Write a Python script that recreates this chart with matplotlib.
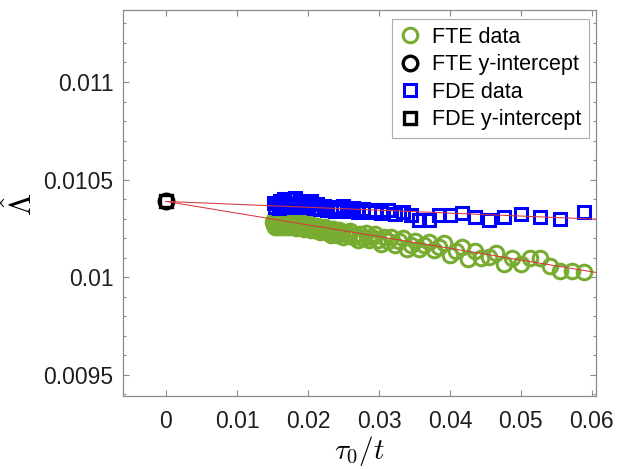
import matplotlib
matplotlib.use("Agg")
import matplotlib.pyplot as plt
from matplotlib.ticker import MultipleLocator

# ---------------- data ----------------
fte_x = [0.01504, 0.01515, 0.01527, 0.01538, 0.01550, 0.01563, 0.01575, 0.01587, 0.01600, 0.01613,
         0.01626, 0.01639, 0.01653, 0.01667, 0.01681, 0.01695, 0.01709, 0.01724, 0.01739, 0.01754,
         0.01770, 0.01786, 0.01802, 0.01818, 0.01835, 0.01852, 0.01869, 0.01887, 0.01905, 0.01923,
         0.01942, 0.01961, 0.01980, 0.02000, 0.02020, 0.02041, 0.02062, 0.02083, 0.02105, 0.02128,
         0.02151, 0.02174, 0.02198, 0.02222, 0.02247, 0.02273, 0.02299, 0.02326, 0.02353, 0.02381,
         0.02410, 0.02439, 0.02469, 0.02500, 0.02532, 0.02564, 0.02597, 0.02632, 0.02667, 0.02703,
         0.02740, 0.02778, 0.02817, 0.02857, 0.02899, 0.02941, 0.02985, 0.03030, 0.03077, 0.03125,
         0.03175, 0.03226, 0.03279, 0.03333, 0.03390, 0.03448, 0.03509, 0.03571, 0.03636, 0.03704,
         0.03774, 0.03846, 0.03922, 0.04000, 0.04082, 0.04167, 0.04255, 0.04348, 0.04444, 0.04545,
         0.04651, 0.04762, 0.04878, 0.05000, 0.05128, 0.05263, 0.05405, 0.05556, 0.05714, 0.05882]
fte_y = [0.010283, 0.010267, 0.010291, 0.010258, 0.010275, 0.010284, 0.010259, 0.010271, 0.010288, 0.010263,
         0.010276, 0.010258, 0.010281, 0.010264, 0.010285, 0.010256, 0.010269, 0.010287, 0.010258, 0.010273,
         0.010286, 0.010261, 0.010274, 0.010285, 0.010250, 0.010265, 0.010279, 0.010257, 0.010270, 0.010278,
         0.010249, 0.010262, 0.010275, 0.010252, 0.010265, 0.010240, 0.010268, 0.010251, 0.010242, 0.010260,
         0.010245, 0.010230, 0.010252, 0.010237, 0.010256, 0.010230, 0.010242, 0.010218, 0.010245, 0.010229,
         0.010217, 0.010244, 0.010226, 0.010208, 0.010230, 0.010214, 0.010236, 0.010206, 0.010218, 0.010192,
         0.010220, 0.010203, 0.010225, 0.010191, 0.010204, 0.010220, 0.010189, 0.010170, 0.010205, 0.010186,
         0.010207, 0.010166, 0.010183, 0.010200, 0.010145, 0.010163, 0.010185, 0.010144, 0.010164, 0.010182,
         0.010138, 0.010155, 0.010173, 0.010112, 0.010133, 0.010156, 0.010093, 0.010133, 0.010097, 0.010105,
         0.010123, 0.010068, 0.010099, 0.010068, 0.010096, 0.010096, 0.010059, 0.010029, 0.010031, 0.010025]

fde_x = [0.01515, 0.01538, 0.01563, 0.01587, 0.01613, 0.01639, 0.01667, 0.01695, 0.01724, 0.01754,
         0.01786, 0.01818, 0.01852, 0.01887, 0.01923, 0.01961, 0.02000, 0.02041, 0.02083, 0.02128,
         0.02174, 0.02222, 0.02273, 0.02326, 0.02381, 0.02439, 0.02500, 0.02564, 0.02632, 0.02703,
         0.02778, 0.02857, 0.02941, 0.03030, 0.03125, 0.03226, 0.03333, 0.03448, 0.03571, 0.03704,
         0.03846, 0.04000, 0.04167, 0.04348, 0.04545, 0.04762, 0.05000, 0.05263, 0.05556, 0.05882]
fde_y = [0.010382, 0.010360, 0.010378, 0.010356, 0.010390, 0.010366, 0.010398, 0.010374, 0.010360, 0.010402,
         0.010380, 0.010405, 0.010372, 0.010392, 0.010360, 0.010386, 0.010368, 0.010388, 0.010356, 0.010376,
         0.010350, 0.010366, 0.010342, 0.010360, 0.010338, 0.010352, 0.010362, 0.010340, 0.010354, 0.010336,
         0.010350, 0.010332, 0.010346, 0.010328, 0.010342, 0.010325, 0.010334, 0.010320, 0.010294, 0.010292,
         0.010318, 0.010318, 0.010327, 0.010306, 0.010292, 0.010306, 0.010325, 0.010306, 0.010296, 0.010335]

fte_intercept = 0.010388
fte_slope = -0.00601
fde_intercept = 0.010388
fde_slope = -0.00150

x_ticks = [0, 0.01, 0.02, 0.03, 0.04, 0.05, 0.06]
x_ticklabels = ["0", "0.01", "0.02", "0.03", "0.04", "0.05", "0.06"]
y_ticks = [0.0095, 0.01, 0.0105, 0.011]
y_ticklabels = ["0.0095", "0.01", "0.0105", "0.011"]
x_lim = (-0.00606, 0.06063)
y_lim = (0.009391, 0.011369)

# ---------------- figure ----------------
plt.rcParams['font.family'] = ['Liberation Sans', 'DejaVu Sans']
plt.rcParams['mathtext.fontset'] = 'cm'

fig = plt.figure(figsize=(6.18, 4.69), dpi=100)
ax = fig.add_axes([0.199, 0.1557, 0.766, 0.823])

green = '#77AC30'
ax.plot(fte_x, fte_y, linestyle='none', marker='o', markersize=10.5,
        markerfacecolor='none', markeredgecolor=green, markeredgewidth=2.2,
        label='FTE data', zorder=3)
ax.plot([0], [fte_intercept], linestyle='none', marker='o', markersize=10.5,
        markerfacecolor='none', markeredgecolor='black', markeredgewidth=2.4,
        label='FTE y-intercept', zorder=5)
ax.plot(fde_x, fde_y, linestyle='none', marker='s', markersize=8.5,
        markerfacecolor='none', markeredgecolor='blue', markeredgewidth=2.2,
        label='FDE data', zorder=4)
ax.plot([0], [fde_intercept], linestyle='none', marker='s', markersize=8.5,
        markerfacecolor='none', markeredgecolor='black', markeredgewidth=2.4,
        label='FDE y-intercept', zorder=5)

xl = [0, x_lim[1]]
ax.plot(xl, [fte_intercept + fte_slope * v for v in xl], color='#d8363b', lw=0.75, zorder=6)
ax.plot(xl, [fde_intercept + fde_slope * v for v in xl], color='#d8363b', lw=0.75, zorder=6)

ax.set_xlim(*x_lim)
ax.set_ylim(*y_lim)
ax.set_xticks(x_ticks)
ax.set_xticklabels(x_ticklabels)
ax.set_yticks(y_ticks)
ax.set_yticklabels(y_ticklabels)
ax.yaxis.set_minor_locator(MultipleLocator(0.0001))

spine_col = '#8c8c8c'
for s in ax.spines.values():
    s.set_color(spine_col)
    s.set_linewidth(0.9)
ax.tick_params(axis='both', which='both', direction='in', top=True, right=True,
               colors=spine_col, labelcolor='#1e1e1e', width=0.8)
ax.tick_params(axis='both', which='major', length=4.5, labelsize=16.5)
ax.tick_params(axis='y', which='minor', length=2.5)
ax.tick_params(axis='x', which='major', pad=10)
ax.tick_params(axis='y', which='major', pad=7)

ax.set_xlabel(r'$\tau_0/t$', fontsize=21, labelpad=1)
# y label placed explicitly (centre of the rotated glyph)
fig.text(22 / 618, 1 - 204 / 469, r'$\hat{\Lambda}$', fontsize=23, rotation=90,
         ha='center', va='center')

leg = ax.legend(loc='upper right', bbox_to_anchor=(0.984, 0.976), borderaxespad=0,
                fontsize=15.5, frameon=True, fancybox=False, handlelength=1.0,
                handletextpad=0.5, labelspacing=0.3, borderpad=0.35)
leg.get_frame().set_edgecolor('#999999')
leg.get_frame().set_linewidth(0.8)

fig.savefig('out.png', dpi=100)
